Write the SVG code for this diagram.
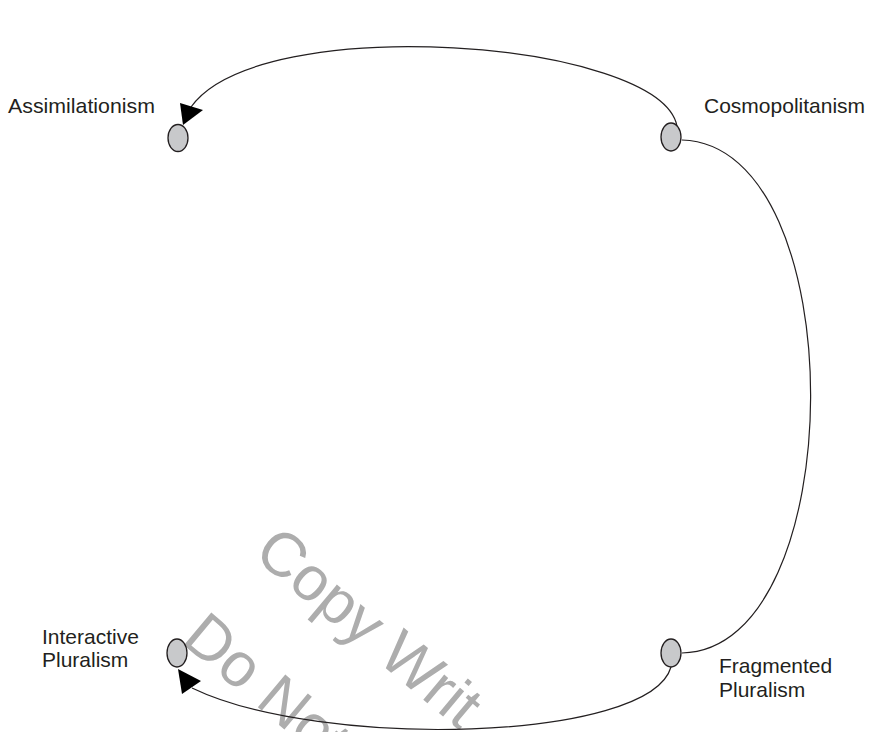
<svg xmlns="http://www.w3.org/2000/svg" width="871" height="732" viewBox="0 0 871 732">
<style>
.node{fill:#c8c9cb;stroke:#231f20;stroke-width:1.3}
.lbl{font-family:"Liberation Sans",Arial,sans-serif;font-size:21px;fill:#231f20}
.edge{fill:none;stroke:#231f20;stroke-width:1.2}
.head{fill:#000}
.wm{font-family:"Liberation Sans",Arial,sans-serif;font-size:62px;fill:#adadad}
</style>
<rect width="871" height="732" fill="#fff"/>
<g id="watermark">
<text class="wm" transform="translate(252,556) rotate(40)">Copy Writ</text>
<text class="wm" transform="translate(180,642) rotate(40)">Do Not</text>
</g>
<g id="connectors">
<path class="edge" d="M677 126 C660 40 260 10 191 107"/>
<polygon class="head" points="183,125 180,103 203,110"/>
<path class="edge" d="M682 140 C855 145 852 650 682 653"/>
<path class="edge" d="M671 667 C650 742 320 750 192 688"/>
<polygon class="head" points="178,669 182,694 201,681"/>
</g>
<g id="assimilationism">
<ellipse class="node" cx="178" cy="138" rx="10" ry="13.5"/>
<text class="lbl" x="8" y="113" textLength="147" lengthAdjust="spacingAndGlyphs">Assimilationism</text>
</g>
<g id="cosmopolitanism">
<ellipse class="node" cx="671" cy="137" rx="10" ry="14"/>
<text class="lbl" x="704" y="113">Cosmopolitanism</text>
</g>
<g id="fragmented">
<ellipse class="node" cx="671" cy="653" rx="10" ry="14"/>
<text class="lbl" x="719" y="673">Fragmented</text>
<text class="lbl" x="719" y="697">Pluralism</text>
</g>
<g id="interactive">
<ellipse class="node" cx="177" cy="653" rx="10" ry="14"/>
<text class="lbl" x="42" y="644">Interactive</text>
<text class="lbl" x="42" y="667">Pluralism</text>
</g>
</svg>
